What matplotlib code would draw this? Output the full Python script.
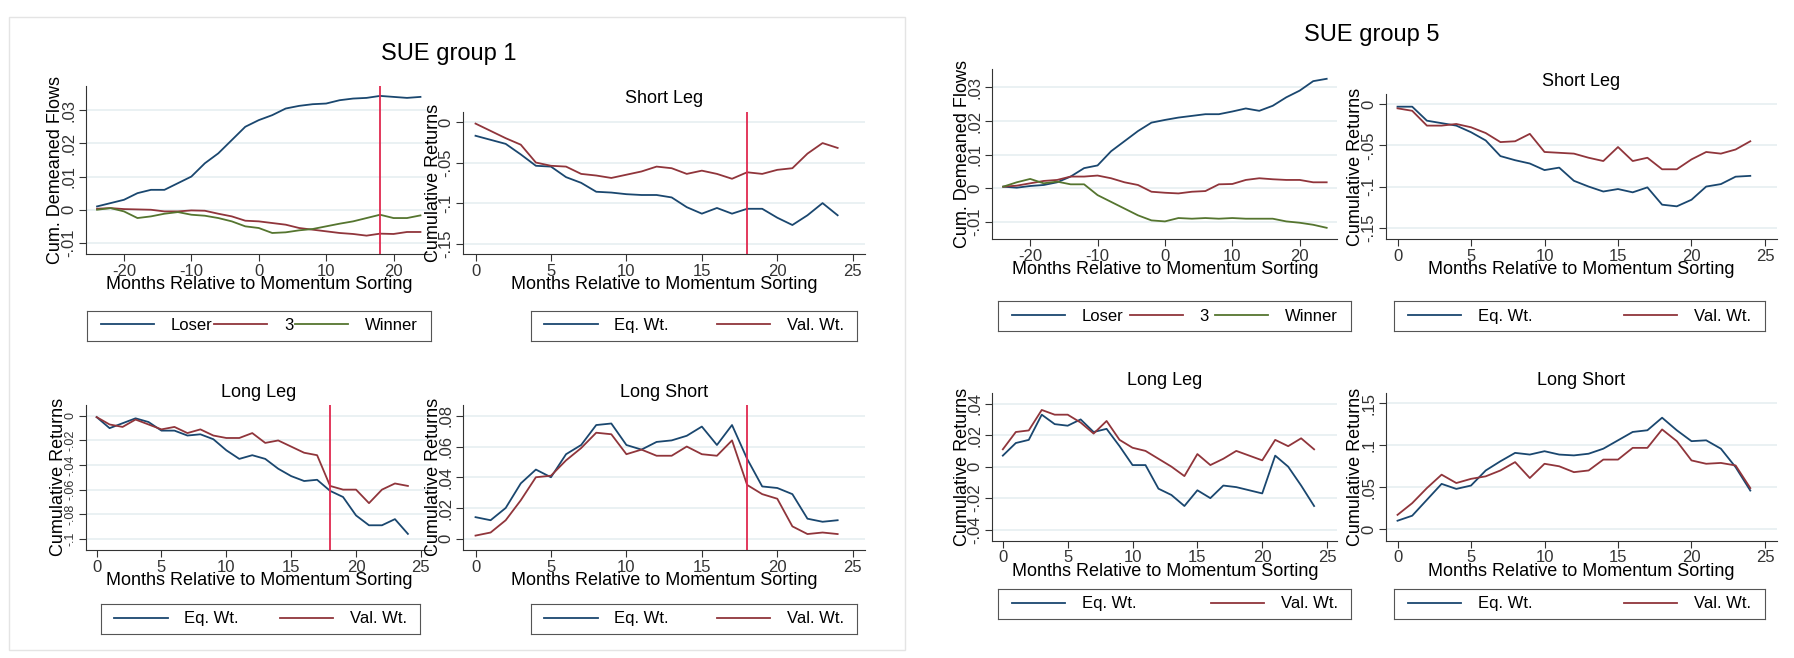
import numpy as np
import matplotlib
matplotlib.use("Agg")
import matplotlib.pyplot as plt
from matplotlib.patches import Rectangle

plt.rcParams['font.family'] = ['Liberation Sans Narrow', 'Liberation Sans', 'DejaVu Sans']

# --- data ---
flow_months = [-24, -22, -20, -18, -16, -14, -12, -10, -8, -6, -4, -2, 0, 2, 4, 6, 8, 10, 12, 14, 16, 18, 20, 22, 24]
ret_months = list(range(25))

g1_loser = [0.001, 0.002, 0.003, 0.005, 0.006, 0.006, 0.008, 0.010, 0.014, 0.017, 0.021, 0.025, 0.027, 0.0285, 0.0305, 0.0313, 0.0318, 0.032, 0.033, 0.0335, 0.0337, 0.0343, 0.034, 0.0337, 0.034]
g1_mid = [0.0003, 0.0005, 0.0002, 0.0001, 0.0, -0.0005, -0.0005, -0.0002, -0.0003, -0.0012, -0.002, -0.0033, -0.0035, -0.004, -0.0045, -0.0055, -0.006, -0.0065, -0.007, -0.0073, -0.0078, -0.0072, -0.0073, -0.0067, -0.0067]
g1_winner = [0.0, 0.0005, -0.0005, -0.0025, -0.002, -0.0012, -0.0007, -0.0015, -0.0018, -0.0025, -0.0035, -0.005, -0.0055, -0.007, -0.0068, -0.0062, -0.0058, -0.005, -0.0042, -0.0035, -0.0025, -0.0015, -0.0025, -0.0025, -0.0017]

g1_short_eq = [-0.017, -0.022, -0.027, -0.040, -0.054, -0.055, -0.068, -0.075, -0.086, -0.087, -0.089, -0.090, -0.090, -0.093, -0.105, -0.113, -0.106, -0.113, -0.107, -0.107, -0.118, -0.127, -0.115, -0.100, -0.115]
g1_short_val = [-0.002, -0.011, -0.020, -0.028, -0.050, -0.054, -0.055, -0.064, -0.066, -0.069, -0.065, -0.061, -0.055, -0.057, -0.064, -0.060, -0.064, -0.070, -0.062, -0.064, -0.059, -0.057, -0.039, -0.026, -0.032]
g1_long_eq = [-0.001, -0.010, -0.006, -0.002, -0.005, -0.012, -0.012, -0.016, -0.015, -0.019, -0.028, -0.035, -0.032, -0.035, -0.043, -0.049, -0.053, -0.052, -0.061, -0.066, -0.081, -0.089, -0.089, -0.084, -0.096]
g1_long_val = [-0.001, -0.007, -0.009, -0.003, -0.007, -0.011, -0.009, -0.014, -0.011, -0.016, -0.018, -0.018, -0.014, -0.022, -0.020, -0.025, -0.030, -0.032, -0.057, -0.060, -0.060, -0.071, -0.060, -0.055, -0.057]
g1_ls_eq = [0.014, 0.012, 0.020, 0.036, 0.045, 0.040, 0.055, 0.061, 0.074, 0.075, 0.061, 0.058, 0.063, 0.064, 0.067, 0.073, 0.061, 0.074, 0.052, 0.034, 0.033, 0.029, 0.013, 0.011, 0.012]
g1_ls_val = [0.002, 0.004, 0.012, 0.025, 0.040, 0.041, 0.051, 0.059, 0.069, 0.068, 0.055, 0.058, 0.054, 0.054, 0.060, 0.055, 0.054, 0.064, 0.035, 0.029, 0.026, 0.008, 0.003, 0.004, 0.003]

g5_loser = [0.0005, 0.0002, 0.0007, 0.001, 0.0018, 0.0035, 0.006, 0.0068, 0.011, 0.014, 0.017, 0.0195, 0.0203, 0.021, 0.0215, 0.022, 0.022, 0.0228, 0.0237, 0.023, 0.0245, 0.027, 0.029, 0.0318, 0.0325]
g5_mid = [0.0005, 0.0008, 0.0015, 0.0022, 0.0025, 0.0035, 0.0035, 0.0038, 0.003, 0.0018, 0.001, -0.001, -0.0013, -0.0015, -0.001, -0.0008, 0.0012, 0.0013, 0.0025, 0.003, 0.0027, 0.0025, 0.0025, 0.0018, 0.0018]
g5_winner = [0.0005, 0.0018, 0.0028, 0.0015, 0.002, 0.0012, 0.0012, -0.002, -0.004, -0.006, -0.008, -0.0095, -0.0098, -0.0088, -0.009, -0.0088, -0.009, -0.0088, -0.009, -0.009, -0.009, -0.0098, -0.0102, -0.0108, -0.0117]

g5_short_eq = [-0.003, -0.003, -0.020, -0.023, -0.026, -0.034, -0.044, -0.063, -0.068, -0.072, -0.080, -0.077, -0.093, -0.100, -0.106, -0.103, -0.107, -0.101, -0.122, -0.124, -0.116, -0.100, -0.097, -0.088, -0.087]
g5_short_val = [-0.005, -0.008, -0.026, -0.026, -0.024, -0.028, -0.035, -0.046, -0.045, -0.036, -0.058, -0.059, -0.060, -0.065, -0.069, -0.052, -0.069, -0.065, -0.079, -0.079, -0.067, -0.058, -0.060, -0.055, -0.045]
g5_long_eq = [0.007, 0.015, 0.017, 0.033, 0.027, 0.026, 0.030, 0.022, 0.024, 0.013, 0.001, 0.001, -0.014, -0.018, -0.025, -0.015, -0.020, -0.012, -0.013, -0.015, -0.017, 0.007, 0.000, -0.012, -0.025]
g5_long_val = [0.011, 0.022, 0.023, 0.036, 0.033, 0.033, 0.028, 0.021, 0.029, 0.017, 0.012, 0.010, 0.005, 0.000, -0.006, 0.008, 0.001, 0.005, 0.010, 0.007, 0.004, 0.017, 0.013, 0.018, 0.011]
g5_ls_eq = [0.010, 0.016, 0.035, 0.054, 0.048, 0.052, 0.070, 0.081, 0.091, 0.089, 0.093, 0.089, 0.088, 0.090, 0.096, 0.106, 0.116, 0.118, 0.133, 0.118, 0.105, 0.106, 0.096, 0.074, 0.046]
g5_ls_val = [0.017, 0.031, 0.049, 0.065, 0.055, 0.060, 0.063, 0.070, 0.080, 0.061, 0.078, 0.075, 0.068, 0.070, 0.083, 0.083, 0.097, 0.097, 0.119, 0.105, 0.082, 0.078, 0.079, 0.076, 0.049]

NAVY, MAROON, GREEN, VLINE = '#1a476f', '#90353b', '#55752f', '#e0294f'
W, H = 1560.0, 572.0
fig = plt.figure(figsize=(17.94, 6.58), dpi=100)


def box(l, t, r, b):
    return [l / W, 1 - b / H, (r - l) / W, (b - t) / H]


def fmt(v):
    if abs(v) < 1e-12:
        return '0'
    return ('%g' % v).replace('0.', '.')


def panel(rect, xs, series, labels, ylim, yticks, xticks, xlim, title=None,
          ylabel='Cumulative Returns', vline=None, legend_rect=None, ytick_size=12):
    ax = fig.add_axes(box(*rect))
    cols = [NAVY, MAROON, GREEN]
    handles = []
    for ys, c in zip(series, cols):
        h, = ax.plot(xs, ys, color=c, lw=1.3)
        handles.append(h)
    if vline is not None:
        ax.axvline(vline, color=VLINE, lw=1.3)
    ax.set_ylim(*ylim)
    ax.set_xlim(*xlim)
    ax.set_yticks(yticks)
    ax.set_yticklabels([fmt(v) for v in yticks], rotation=90, va='center', fontsize=ytick_size)
    ax.set_xticks(xticks)
    ax.set_xticklabels([str(v) for v in xticks], fontsize=12)
    ax.grid(axis='y', color='#e6eff1', lw=1.2)
    ax.set_axisbelow(True)
    for s in ['top', 'right']:
        ax.spines[s].set_visible(False)
    for s in ['left', 'bottom']:
        ax.spines[s].set_color('#333333')
    ax.tick_params(colors='#333333', length=5, pad=2)
    ax.set_ylabel(ylabel, fontsize=13, labelpad=-2)
    ax.set_xlabel('Months Relative to Momentum Sorting', fontsize=13, labelpad=-2)
    if title:
        ax.set_title(title, fontsize=13, pad=6)
    if legend_rect is not None:
        lax = fig.add_axes(box(*legend_rect))
        lax.set_xticks([]); lax.set_yticks([])
        for s in lax.spines.values():
            s.set_color('#555555')
        lax.legend(handles, labels, loc='center', ncol=len(labels), frameon=False,
                   fontsize=12, handlelength=3.2, handletextpad=1.0,
                   bbox_to_anchor=(0.02, 0, 0.96, 1), mode='expand', borderaxespad=0)
    return ax


flow_ticks_x = [-20, -10, 0, 10, 20]
ret_ticks_x = [0, 5, 10, 15, 20, 25]

# SUE group 1 frame
fig.patches.append(Rectangle((8 / W, 1 - 565 / H), 779 / W, 550 / H, transform=fig.transFigure,
                             fill=False, ec='#e4e4e4', lw=1))
fig.text(390 / W, 1 - 47 / H, 'SUE group 1', ha='center', va='center', fontsize=17)
panel((75, 75, 375, 221), flow_months, [g1_loser, g1_mid, g1_winner], ['Loser', '3', 'Winner'],
      (-0.0134, 0.0372), [-0.01, 0, 0.01, 0.02, 0.03], flow_ticks_x, (-25.6, 25.6),
      ylabel='Cum. Demeaned Flows', vline=18, legend_rect=(76, 270, 375, 296))
panel((403, 97, 752, 221), ret_months, [g1_short_eq, g1_short_val], ['Eq. Wt.', 'Val. Wt.'],
      (-0.163, 0.0128), [-0.15, -0.1, -0.05, 0], ret_ticks_x, (-0.8, 25.8),
      title='Short Leg', vline=18, legend_rect=(462, 270, 745, 296))
panel((75, 352, 375, 478), ret_months, [g1_long_eq, g1_long_val], ['Eq. Wt.', 'Val. Wt.'],
      (-0.109, 0.0089), [-0.1, -0.08, -0.06, -0.04, -0.02, 0], ret_ticks_x, (-0.8, 25.8),
      title='Long Leg', vline=18, legend_rect=(88, 525, 365, 551), ytick_size=9)
panel((403, 352, 752, 478), ret_months, [g1_ls_eq, g1_ls_val], ['Eq. Wt.', 'Val. Wt.'],
      (-0.0073, 0.0871), [0, 0.02, 0.04, 0.06, 0.08], ret_ticks_x, (-0.8, 25.8),
      title='Long Short', vline=18, legend_rect=(462, 525, 745, 551))

# SUE group 5
fig.text(1193 / W, 1 - 30 / H, 'SUE group 5', ha='center', va='center', fontsize=17)
panel((863, 60, 1163, 208), flow_months, [g5_loser, g5_mid, g5_winner], ['Loser', '3', 'Winner'],
      (-0.0151, 0.0354), [-0.01, 0, 0.01, 0.02, 0.03], flow_ticks_x, (-25.6, 25.6),
      ylabel='Cum. Demeaned Flows', legend_rect=(868, 262, 1175, 288))
panel((1205, 82, 1545, 208), ret_months, [g5_short_eq, g5_short_val], ['Eq. Wt.', 'Val. Wt.'],
      (-0.164, 0.012), [-0.15, -0.1, -0.05, 0], ret_ticks_x, (-0.8, 25.8),
      title='Short Leg', legend_rect=(1212, 262, 1535, 288))
panel((863, 342, 1163, 470), ret_months, [g5_long_eq, g5_long_val], ['Eq. Wt.', 'Val. Wt.'],
      (-0.047, 0.0465), [-0.04, -0.02, 0, 0.02, 0.04], ret_ticks_x, (-0.8, 25.8),
      title='Long Leg', legend_rect=(868, 512, 1175, 538))
panel((1205, 342, 1545, 470), ret_months, [g5_ls_eq, g5_ls_val], ['Eq. Wt.', 'Val. Wt.'],
      (-0.0138, 0.162), [0, 0.05, 0.1, 0.15], ret_ticks_x, (-0.8, 25.8),
      title='Long Short', legend_rect=(1212, 512, 1535, 538))

fig.savefig('out.png', dpi=100, facecolor='white')
